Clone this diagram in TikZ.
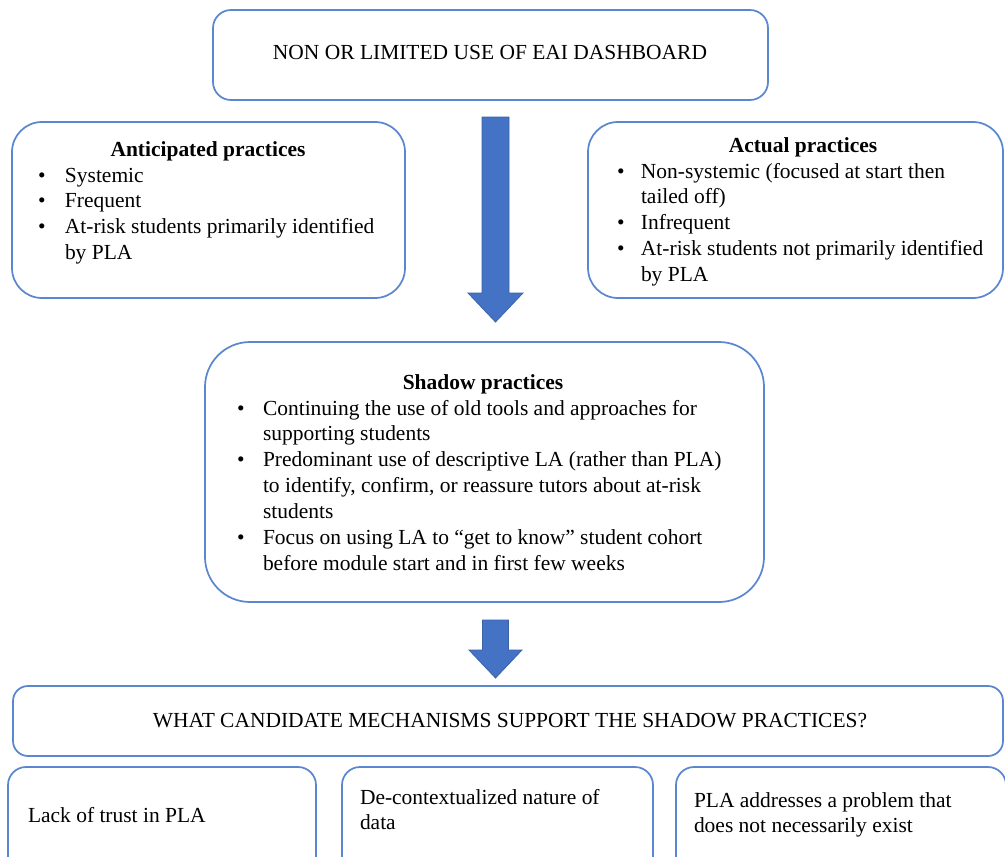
\documentclass[tikz,border=0pt]{standalone}
\usepackage{fontspec}
\setmainfont{Liberation Serif}
\definecolor{boxblue}{HTML}{5B87D0}
\definecolor{arrfill}{HTML}{4472C4}
\definecolor{arrline}{HTML}{3A62A8}
\newlength\bind
\newcommand\blt{\makebox[\bind][l]{\textbullet}}
\newcommand\ind{\hspace*{\bind}}
\tikzset{
  box/.style={draw=boxblue, line width=1.3pt, fill=white, inner sep=0pt, outer sep=0pt},
  txt/.style={inner sep=0pt, outer sep=0pt, font=\fontsize{16.1pt}{19.4pt}\selectfont, text=black},
  ttl/.style={txt, font=\fontsize{16.1pt}{19.4pt}\selectfont\bfseries, anchor=base},
  blockarrow/.style={fill=arrfill, draw=arrline, line width=0.6pt, line join=miter}
}
\begin{document}
\begin{tikzpicture}[x=0.75pt,y=-0.75pt]
\useasboundingbox (0,0) rectangle (1005,856);
% boxes
\node[box, minimum width=555*0.75pt, minimum height=90*0.75pt, rounded corners=18*0.75pt] (top) at (490.5,55) {};
\node[box, minimum width=393*0.75pt, minimum height=176*0.75pt, rounded corners=30*0.75pt] (antic) at (208.5,210) {};
\node[box, minimum width=415*0.75pt, minimum height=176*0.75pt, rounded corners=30*0.75pt] (actual) at (795.5,210) {};
\node[box, minimum width=559*0.75pt, minimum height=260*0.75pt, rounded corners=45*0.75pt] (shadow) at (484.5,472) {};
\node[box, minimum width=990*0.75pt, minimum height=70*0.75pt, rounded corners=15*0.75pt] (quest) at (508,721) {};
\node[box, minimum width=308*0.75pt, minimum height=110*0.75pt, rounded corners=18*0.75pt] (m1) at (162,822) {};
\node[box, minimum width=311*0.75pt, minimum height=110*0.75pt, rounded corners=18*0.75pt] (m2) at (497.5,822) {};
\node[box, minimum width=330*0.75pt, minimum height=110*0.75pt, rounded corners=18*0.75pt] (m3) at (841,822) {};
% arrows
\coordinate (a1) at (495.5,117);
\coordinate (a2) at (495.5,620);
\draw[blockarrow] ([xshift=-13.5*0.75pt]a1) -- ([xshift=13.5*0.75pt]a1) -- ++(0,176) -- ++(14,0) -- ([yshift=-205*0.75pt]a1) -- ++(-27.5,-29) -- ++(14,0) -- cycle;
\draw[blockarrow] ([xshift=-13*0.75pt]a2) -- ([xshift=13*0.75pt]a2) -- ++(0,30) -- ++(13.5,0) -- ([yshift=-58*0.75pt]a2) -- ++(-26.5,-28) -- ++(13.5,0) -- cycle;
% texts
\node[txt, anchor=base] (topT) at (490,60) {NON OR LIMITED USE OF EAI DASHBOARD};
\node[ttl] (anticT) at (208,156) {Anticipated practices};
\node[txt, anchor=base west] (anticL) at (38,182) {\setlength\bind{20.25pt}\begin{tabular}[t]{@{}l@{}}\blt Systemic\\ \blt Frequent\\ \blt At-risk students primarily identified\\ \ind by PLA\end{tabular}};
\node[ttl] (actualT) at (803,152) {Actual practices};
\node[txt, anchor=base west] (actualL) at (617,178) {\setlength\bind{18pt}\begin{tabular}[t]{@{}l@{}}\blt Non-systemic (focused at start then\\ \ind tailed off)\\ \blt Infrequent\\ \blt At-risk students not primarily identified\\ \ind by PLA\end{tabular}};
\node[ttl] (shadowT) at (483,389) {Shadow practices};
\node[txt, anchor=base west] (shadowL) at (237,415) {\setlength\bind{19.5pt}\begin{tabular}[t]{@{}l@{}}\blt Continuing the use of old tools and approaches for\\ \ind supporting students\\ \blt Predominant use of descriptive LA (rather than PLA)\\ \ind to identify, confirm, or reassure tutors about at-risk\\ \ind students\\ \blt Focus on using LA to “get to know” student cohort\\ \ind before module start and in first few weeks\end{tabular}};
\node[txt, anchor=base] (questT) at (510,727) {WHAT CANDIDATE MECHANISMS SUPPORT THE SHADOW PRACTICES?};
\node[txt, anchor=base west] (m1T) at (28,822) {Lack of trust in PLA};
\node[txt, anchor=base west] (m2T) at (360,804) {\begin{tabular}[t]{@{}l@{}}De-contextualized nature of\\ data\end{tabular}};
\node[txt, anchor=base west] (m3T) at (694,807) {\begin{tabular}[t]{@{}l@{}}PLA addresses a problem that\\ does not necessarily exist\end{tabular}};
\end{tikzpicture}
\end{document}
